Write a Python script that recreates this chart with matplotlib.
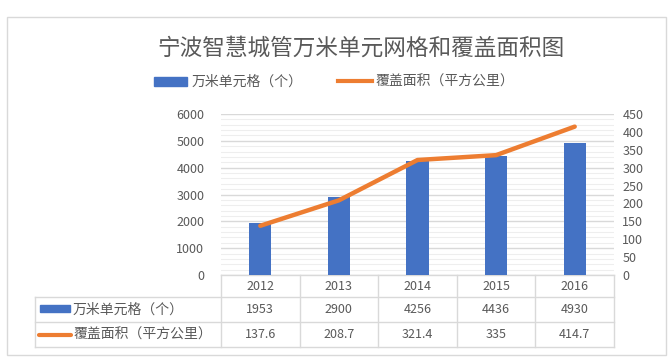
import matplotlib
matplotlib.use("Agg")
import matplotlib.pyplot as plt
from matplotlib.patches import Rectangle, Patch
from matplotlib.lines import Line2D
import matplotlib.transforms as mtransforms
import numpy as np

plt.rcParams['font.family'] = ['Noto Sans CJK SC', 'DejaVu Sans']

title = "宁波智慧城管万米单元网格和覆盖面积图"
years = ["2012", "2013", "2014", "2015", "2016"]
grids = [1953, 2900, 4256, 4436, 4930]
area = [137.6, 208.7, 321.4, 335, 414.7]
area_labels = ["137.6", "208.7", "321.4", "335", "414.7"]
name_bar = "万米单元格（个）"
name_line = "覆盖面积（平方公里）"

BLUE = "#4472C4"
ORANGE = "#ED7D31"
TXT = "#595959"
GRID = "#d9d9d9"
MINOR = "#eeeeee"

W, H = 671, 361
fig = plt.figure(figsize=(W / 100, H / 100), dpi=100)

def fx(px):
    return px / W

def fy(py):
    return 1 - py / H

# chart border
fig.patches.append(Rectangle((fx(7), fy(355)), fx(666) - fx(7), fy(17) - fy(355),
                             transform=fig.transFigure, fill=False, edgecolor=GRID, lw=1.0))

left, right, top, bottom = 221, 614, 114, 275
ax = fig.add_axes([fx(left), fy(bottom), fx(right) - fx(left), fy(top) - fy(bottom)])
ax2 = ax.twinx()

x = np.arange(len(years))
ax.bar(x, grids, width=0.28, color=BLUE, zorder=3)
ax.set_xlim(-0.5, len(years) - 0.5)
ax.set_ylim(0, 6000)
ax.set_yticks(np.arange(0, 6001, 1000))
ax.set_yticks(np.arange(0, 6001, 200), minor=True)
ax.grid(axis='y', which='major', color=GRID, lw=1.0, zorder=0)
ax.grid(axis='y', which='minor', color=MINOR, lw=0.8, zorder=0)
ax.set_axisbelow(True)
ax.tick_params(axis='y', which='both', length=0, labelsize=9, labelcolor=TXT, pad=12)
ax.tick_params(axis='x', which='both', length=0, labelbottom=False)
for s in ax.spines.values():
    s.set_visible(False)

ax2.plot(x, area, color=ORANGE, lw=3.2, solid_capstyle='round', zorder=4)
ax2.set_ylim(0, 450)
ax2.set_yticks(np.arange(0, 451, 50))
ax2.tick_params(axis='y', length=0, labelsize=9, labelcolor=TXT, pad=6)
for s in ax2.spines.values():
    s.set_visible(False)

# data table below axes
hpx = bottom - top
def ay(py):
    return (bottom - py) / hpx

wpx = right - left
def axf(px):
    return (px - left) / wpx

row_y = [275, 297, 322, 347]
tl = dict(transform=ax.transAxes, clip_on=False, color=GRID, lw=1.0)
ax.plot([0, 1], [ay(275), ay(275)], **tl)
for yy in row_y[1:]:
    ax.plot([axf(35), 1], [ay(yy), ay(yy)], **tl)
ax.plot([axf(35), axf(35)], [ay(297), ay(347)], **tl)
bt = mtransforms.blended_transform_factory(ax.transData, ax.transAxes)
for b in np.arange(-0.5, len(years), 1.0):
    ax.plot([b, b], [ay(275), ay(347)], color=GRID, lw=1.0, transform=bt, clip_on=False)

for i, yr in enumerate(years):
    ax.text(i, ay(286), yr, transform=bt, ha='center', va='center', fontsize=9, color=TXT)
    ax.text(i, ay(309.5), str(grids[i]), transform=bt, ha='center', va='center', fontsize=9, color=TXT)
    ax.text(i, ay(334.5), area_labels[i], transform=bt, ha='center', va='center', fontsize=9, color=TXT)

# row headers with swatches
fig.patches.append(Rectangle((fx(40), fy(312)), fx(70) - fx(40), fy(305) - fy(312),
                             transform=fig.transFigure, color=BLUE))
fig.lines.append(Line2D([fx(39), fx(71)], [fy(335), fy(335)], transform=fig.transFigure,
                        color=ORANGE, lw=3, solid_capstyle='round'))
fig.text(fx(73), fy(309.5), name_bar, ha='left', va='center', fontsize=10, color=TXT)
fig.text(fx(73), fy(334.5), name_line, ha='left', va='center', fontsize=10, color=TXT)

# title
fig.text(fx(361), fy(48), title, ha='center', va='center', fontsize=16.3, color=TXT)

# legend
handles = [Patch(color=BLUE, label=name_bar),
           Line2D([0], [0], color=ORANGE, lw=3, label=name_line)]
leg = fig.legend(handles=handles, loc='center', bbox_to_anchor=(fx(334), fy(82)), ncol=2,
                 frameon=False, fontsize=10, handlelength=2.4, handleheight=0.6,
                 columnspacing=2.6, handletextpad=0.3)
for t in leg.get_texts():
    t.set_color(TXT)

fig.savefig("out.png", dpi=100)
